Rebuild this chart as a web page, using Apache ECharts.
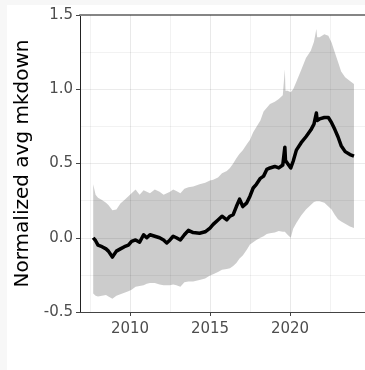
<!DOCTYPE html>
<html>
<head>
<meta charset="utf-8">
<script src="https://cdn.jsdelivr.net/npm/echarts@6/dist/echarts.min.js"></script>
<style>
  html, body { margin: 0; padding: 0; background: #f7f7f7; }
  #panel { position: absolute; left: 7px; top: 5px; width: 358px; height: 365px; background: #ffffff; }
  #chart { position: absolute; left: 0; top: 0; width: 365px; height: 370px; }
</style>
</head>
<body>
<div id="panel"></div>
<div id="chart"></div>
<script>
// Decimal years of each observation
const years = [
  2007.7, 2007.85, 2008.0, 2008.25, 2008.5, 2008.65, 2008.9, 2009.15, 2009.4, 2009.65,
  2009.9, 2010.1, 2010.35, 2010.6, 2010.85, 2011.05, 2011.25, 2011.55, 2011.85, 2012.1,
  2012.3, 2012.5, 2012.7, 2012.9, 2013.15, 2013.4, 2013.65, 2013.95, 2014.35, 2014.7,
  2015.0, 2015.2, 2015.5, 2015.75, 2016.05, 2016.25, 2016.45, 2016.65, 2016.85, 2017.05,
  2017.3, 2017.5, 2017.7, 2017.9, 2018.15, 2018.35, 2018.55, 2018.75, 2019.05, 2019.3,
  2019.55, 2019.68, 2019.72, 2019.85, 2020.05, 2020.2, 2020.4, 2020.7, 2021.0, 2021.3,
  2021.5, 2021.65, 2021.7, 2021.85, 2022.15, 2022.4, 2022.6, 2022.8, 2023.0, 2023.2,
  2023.45, 2023.75, 2024.0
];

// Normalized average markdown
const meanValues = [
  0.0, -0.02, -0.05, -0.06, -0.075, -0.09, -0.13, -0.09, -0.075, -0.06,
  -0.05, -0.025, -0.015, -0.03, 0.02, 0.0, 0.02, 0.01, 0.0, -0.015,
  -0.035, -0.015, 0.01, 0.0, -0.015, 0.02, 0.05, 0.035, 0.03, 0.04,
  0.065, 0.09, 0.12, 0.145, 0.12, 0.145, 0.155, 0.21, 0.26, 0.21,
  0.235, 0.28, 0.335, 0.36, 0.40, 0.415, 0.46, 0.47, 0.48, 0.47,
  0.49, 0.61, 0.52, 0.50, 0.47, 0.515, 0.59, 0.64, 0.68, 0.725,
  0.765, 0.84, 0.79, 0.80, 0.81, 0.81, 0.775, 0.73, 0.68, 0.62,
  0.58, 0.56, 0.55
];

// Upper edge of the spread band
const upperValues = [
  0.36, 0.29, 0.27, 0.255, 0.235, 0.22, 0.185, 0.19, 0.23, 0.255,
  0.28, 0.30, 0.325, 0.29, 0.32, 0.31, 0.30, 0.325, 0.31, 0.29,
  0.30, 0.31, 0.325, 0.315, 0.30, 0.33, 0.34, 0.345, 0.36, 0.37,
  0.385, 0.39, 0.405, 0.435, 0.45, 0.47, 0.50, 0.535, 0.565, 0.59,
  0.63, 0.66, 0.71, 0.745, 0.79, 0.85, 0.875, 0.90, 0.915, 0.935,
  0.96, 1.135, 0.99, 0.99, 0.98, 1.0, 1.05, 1.13, 1.21, 1.26,
  1.32, 1.405, 1.35, 1.35, 1.37, 1.36, 1.315, 1.25, 1.185, 1.12,
  1.08, 1.055, 1.035
];

// Lower edge of the spread band
const lowerValues = [
  -0.375, -0.39, -0.395, -0.39, -0.385, -0.395, -0.41, -0.39, -0.38, -0.37,
  -0.36, -0.35, -0.33, -0.325, -0.32, -0.31, -0.305, -0.305, -0.315, -0.32,
  -0.32, -0.32, -0.315, -0.32, -0.33, -0.30, -0.295, -0.295, -0.285, -0.275,
  -0.255, -0.245, -0.23, -0.215, -0.21, -0.205, -0.19, -0.17, -0.14, -0.12,
  -0.08, -0.045, -0.03, -0.015, 0.0, 0.01, 0.025, 0.03, 0.035, 0.045,
  0.04, 0.04, 0.035, 0.02, 0.0, 0.06, 0.10, 0.15, 0.19, 0.22,
  0.24, 0.245, 0.245, 0.245, 0.235, 0.21, 0.19, 0.155, 0.125, 0.11,
  0.095, 0.075, 0.065
];

const xTickYears = [2010, 2015, 2020];
const xGridYears = [2007.5, 2010, 2012.5, 2015, 2017.5, 2020, 2022.5];
const yAxisTitle = 'Normalized avg mkdown';

const FONT = 'DejaVu Sans';
const xMin = 2006.875, xMax = 2024.69;
const yMin = -0.5, yMax = 1.5;

const pairs = (vals) => years.map((t, i) => [t, vals[i]]);
const bandRows = years.map((t, i) => [t, lowerValues[i], upperValues[i]]);

const chart = echarts.init(document.getElementById('chart'), null, { renderer: 'canvas' });

chart.setOption({
  animation: false,
  backgroundColor: 'transparent',
  grid: { left: 80, right: 0, top: 15, bottom: 58 },
  xAxis: [{
    type: 'value', min: xMin, max: xMax,
    axisLine: { show: true, onZero: false, lineStyle: { color: '#444', width: 1 } },
    axisTick: { show: true, length: 4, customValues: xTickYears, lineStyle: { color: '#444' } },
    axisLabel: { customValues: xTickYears, margin: 10, fontFamily: FONT, fontSize: 15, color: '#4d4d4d',
                 formatter: (v) => String(v) },
    splitLine: { show: false }
  }, {
    type: 'value', min: xMin, max: xMax, position: 'top',
    axisLine: { show: true, onZero: false, lineStyle: { color: '#858585', width: 2 } },
    axisTick: { show: false }, axisLabel: { show: false }, splitLine: { show: false }
  }],
  yAxis: {
    type: 'value', min: yMin, max: yMax, interval: 0.5,
    name: yAxisTitle, nameLocation: 'middle', nameRotate: 90, nameGap: 41,
    nameTextStyle: { fontFamily: FONT, fontSize: 20, color: '#000' },
    axisLine: { show: true, onZero: false, lineStyle: { color: '#222', width: 1 } },
    axisTick: { show: true, length: 4, lineStyle: { color: '#444' } },
    axisLabel: { margin: 7, fontFamily: FONT, fontSize: 15, color: '#4d4d4d',
                 formatter: (v) => v.toFixed(1) },
    splitLine: { show: true, lineStyle: { color: '#ebebeb', width: 1 } },
    minorTick: { show: false, splitNumber: 2 },
    minorSplitLine: { show: true, lineStyle: { color: '#f2f2f2', width: 1 } }
  },
  series: [
    {
      // shaded spread band between lower and upper edges
      type: 'custom', z: 2, silent: true,
      data: bandRows,
      encode: { x: 0, y: [1, 2] },
      renderItem: (params, api) => {
        if (params.dataIndex !== 0) return null;
        const top = bandRows.map((r) => api.coord([r[0], r[2]]));
        const bottom = bandRows.map((r) => api.coord([r[0], r[1]])).reverse();
        return {
          type: 'polygon',
          shape: { points: top.concat(bottom) },
          style: { fill: 'rgba(0,0,0,0.2)' }
        };
      }
    },
    {
      type: 'line', data: pairs(meanValues), symbol: 'none', z: 3,
      lineStyle: { color: '#000', width: 3.5, join: 'round' },
      // vertical grid lines at major and minor year breaks (translucent, so they show through the band)
      markLine: {
        silent: true, symbol: 'none', label: { show: false }, animation: false,
        data: xGridYears.map((t) => ({
          xAxis: t,
          lineStyle: { color: (t % 5 === 0) ? 'rgba(0,0,0,0.085)' : 'rgba(0,0,0,0.05)', width: 1, type: 'solid', opacity: 1 }
        }))
      }
    }
  ]
});
</script>
</body>
</html>
